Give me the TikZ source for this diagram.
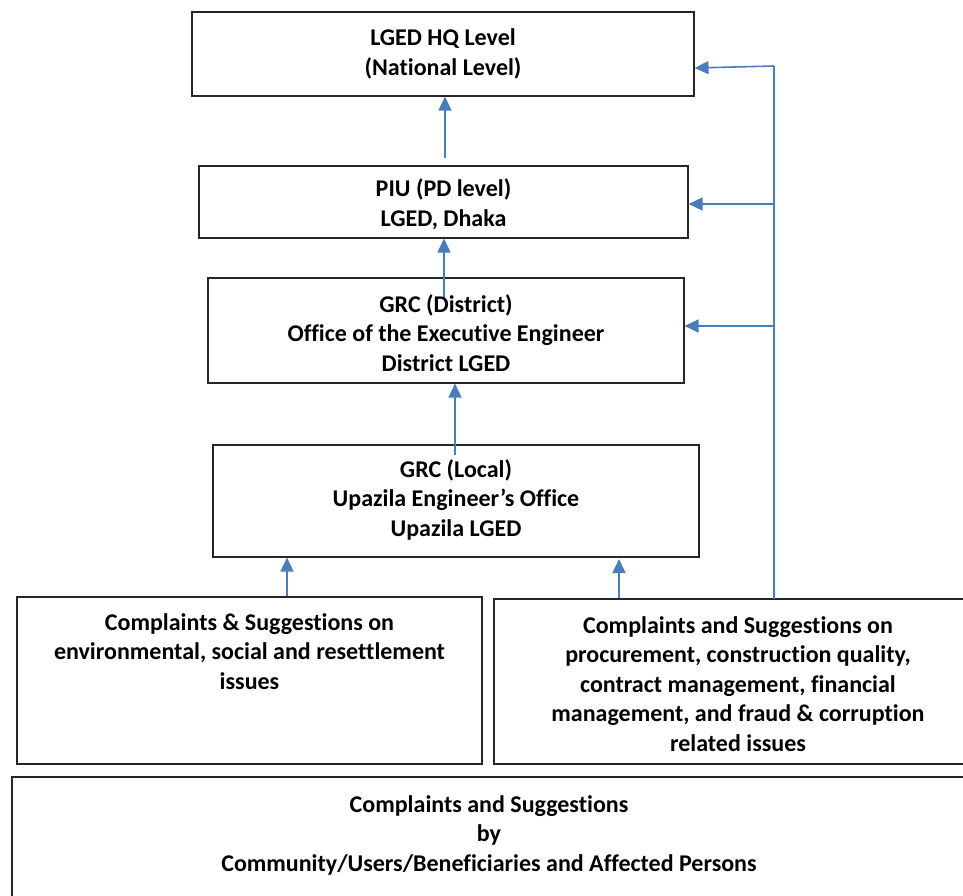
\documentclass[tikz,border=0pt]{standalone}
\usepackage{fontspec}
\setmainfont[Ligatures=NoCommon]{Carlito}
\usetikzlibrary{arrows.meta}
\definecolor{arrblue}{RGB}{74,126,187}
\begin{document}
\begin{tikzpicture}[x=1pt,y=-1pt,
  box/.style={draw=black!85,line width=1.1pt,fill=white,inner sep=0pt},
  txt/.style={align=center,font=\bfseries\fontsize{24}{29.5}\selectfont,inner sep=0pt},
  arr/.style={draw=arrblue,line width=1.6pt,-{Triangle[length=14pt,width=13pt]}}]
\useasboundingbox (0,0) rectangle (963,896);
\clip (0,0) rectangle (963,896);
\fill[white] (0,0) rectangle (963,896);
% boxes
\node[box,minimum width=502pt,minimum height=84pt] (b1) at (443,54) {};
\node[txt] (t1) at (443,54) {LGED HQ Level\\(National Level)};
\node[box,minimum width=489pt,minimum height=72pt] (b2) at (443.5,202) {};
\node[txt] (t2) at (443.5,204) {PIU (PD level)\\LGED, Dhaka};
\node[box,minimum width=476pt,minimum height=105pt] (b3) at (446,330.5) {};
\node[box,minimum width=486pt,minimum height=112pt] (b4) at (456,501) {};
\node[txt] (t4) at (456,499.5) {GRC (Local)\\Upazila Engineer’s Office\\Upazila LGED};
\node[box,minimum width=465pt,minimum height=167pt] (b5) at (249.5,680.5) {};
\node[txt] (t5) at (249.5,651.5) {Complaints \& Suggestions on\\environmental, social and resettlement\\issues};
\node[box,minimum width=488pt,minimum height=165pt] (b6) at (738,681.5) {};
\node[txt] (t6) at (738,684) {Complaints and Suggestions on\\procurement, construction quality,\\contract management, financial\\management, and fraud \& corruption\\related issues};
\node[box,minimum width=954pt,minimum height=140pt] (b7) at (489,847) {};
\node[txt] (t7) at (489,835) {Complaints and Suggestions\\by\\Community/Users/Beneficiaries and Affected Persons};
% coordinates
\coordinate (x445) at (445,0);
\coordinate (x444) at (444,0);
\coordinate (x455) at (455,0);
\coordinate (x287) at (287,0);
\coordinate (x619) at (619,0);
\coordinate (rb) at (774,599);
\coordinate (rt) at (774,66);
\coordinate (y204) at (0,204);
\coordinate (y326) at (0,326);
\coordinate (y68) at (0,68);
% vertical arrows (drawn after boxes; the GRC district arrow overlaps its box)
\draw[arr] (445,158) -- (b1.south -| x445);
\draw[arr] (444,298) -- (b2.south -| x444);
\node[txt] (t3) at (446,333) {GRC (District)\\Office of the Executive Engineer\\District LGED};
\draw[arr] (455,455) -- (b3.south -| x455);
\draw[arr] (b5.north -| x287) -- (b4.south -| x287);
\draw[arr] (b6.north -| x619) -- (619,559);
% right connector
\draw[arrblue,line width=1.6pt] (rb) -- (rt);
\draw[arr] (rt) -- (b1.east |- y68);
\draw[arr] (rt |- y204) -- (b2.east |- y204);
\draw[arr] (rt |- y326) -- (b3.east |- y326);
\end{tikzpicture}
\end{document}
